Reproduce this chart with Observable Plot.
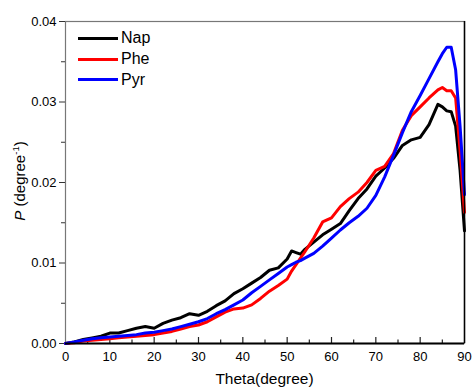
<!DOCTYPE html>
<html>
<head>
<meta charset="utf-8">
<script src="https://cdn.jsdelivr.net/npm/d3@7"></script>
<script src="https://cdn.jsdelivr.net/npm/@observablehq/plot@0.6"></script>
<style>
  html, body { margin: 0; padding: 0; background: #fff; }
  #wrap { position: relative; width: 472px; height: 387px; font-family: "Liberation Sans", Arial, sans-serif; }
  #legend { position: absolute; left: 78px; top: 28px; font-size: 16px; color: #000; }
  #legend .row { display: flex; align-items: center; height: 20.7px; }
  #legend .sw { width: 40px; height: 3px; margin-right: 3px; }
</style>
</head>
<body>
<div id="wrap"><div id="legend"></div></div>
<script>
const theta = [0,2,4,6,8,10,12,14,16,18,20,22,24,26,28,30,32,34,36,38,40,42,44,46,48,50,51,52,53,54,56,58,60,62,64,66,68,70,72,74,76,78,80,82,84,85,86,87,88,89,90];
const nap = [0,0.0002,0.0005,0.0007,0.0009,0.0013,0.0013,0.0016,0.0019,0.0021,0.0019,0.0025,0.0029,0.0032,0.0037,0.0035,0.0040,0.0047,0.0053,0.0062,0.0068,0.0075,0.0082,0.0091,0.0094,0.0105,0.0115,0.0113,0.0111,0.0117,0.0126,0.0135,0.0142,0.0149,0.0165,0.0180,0.0192,0.0208,0.0218,0.0230,0.0246,0.0253,0.0256,0.0272,0.0297,0.0294,0.0289,0.0288,0.0270,0.0215,0.0140];
const phe = [0,0.0001,0.0003,0.0004,0.0005,0.0006,0.0007,0.0008,0.0009,0.0010,0.0011,0.0013,0.0015,0.0018,0.0021,0.0023,0.0027,0.0033,0.0039,0.0043,0.0044,0.0048,0.0056,0.0065,0.0072,0.0080,0.0090,0.0098,0.0106,0.0114,0.0131,0.0151,0.0156,0.0170,0.0180,0.0188,0.0200,0.0215,0.0220,0.0236,0.0265,0.0283,0.0294,0.0305,0.0315,0.0318,0.0314,0.0314,0.0305,0.0240,0.0163];
const pyr = [0,0.0002,0.0004,0.0006,0.0007,0.0008,0.0009,0.0010,0.0011,0.0013,0.0014,0.0016,0.0018,0.0021,0.0024,0.0027,0.0031,0.0037,0.0042,0.0048,0.0054,0.0063,0.0071,0.0079,0.0087,0.0095,0.0098,0.0101,0.0103,0.0106,0.0112,0.0121,0.0131,0.0141,0.0150,0.0158,0.0168,0.0184,0.0207,0.0234,0.0262,0.0288,0.0308,0.0329,0.0350,0.0360,0.0368,0.0368,0.0340,0.0270,0.0185];
const seriesNames = ["Nap","Phe","Pyr"];
const seriesColors = ["#000000","#ff0000","#0000ff"];
const xTicks = [0,10,20,30,40,50,60,70,80,90];
const xMinor = [5,15,25,35,45,55,65,75,85];
const yTicks = [0,0.01,0.02,0.03,0.04];
const yMinor = [0.005,0.015,0.025,0.035];

const seriesValues = [nap, phe, pyr];
const data = [];
seriesNames.forEach((name, i) => {
  theta.forEach((t, j) => data.push({series: name, theta: t, p: seriesValues[i][j]}));
});

const W = 472, H = 387, mL = 65, mR = 8, mT = 21, mB = 44;
const innerH = H - mT - mB;

const chart = Plot.plot({
  width: W, height: H,
  marginLeft: mL, marginRight: mR, marginTop: mT, marginBottom: mB,
  style: {fontFamily: "Liberation Sans, Arial, sans-serif", fontSize: "13px", color: "#000", background: "#fff"},
  x: {domain: [0, 90]},
  y: {domain: [0, 0.04]},
  color: {domain: seriesNames, range: seriesColors},
  marks: [
    Plot.frame({stroke: "#777", strokeWidth: 1.2}),
    Plot.axisY({ticks: yTicks, tickFormat: d3.format(".2f"), tickSize: 6, tickPadding: 3, label: null, stroke: "#333"}),
    Plot.axisY({ticks: yMinor, tickFormat: () => "", tickSize: 4, label: null, stroke: "#333"}),
    Plot.axisX({ticks: xTicks, tickSize: 0, tickPadding: 8, label: null}),
    Plot.ruleX(xTicks.slice(1, -1), {x: d => d, insetTop: innerH - 6, stroke: "#222", strokeWidth: 1.2}),
    Plot.ruleX(xMinor, {x: d => d, insetTop: innerH - 3.5, stroke: "#222", strokeWidth: 1.2}),
    Plot.line(data, {x: "theta", y: "p", z: "series", stroke: "series", strokeWidth: 3, curve: "linear"}),
    Plot.ruleY([0], {stroke: "#000", strokeWidth: 2}),
    Plot.ruleX([90], {stroke: "#000", strokeWidth: 1.5})
  ]
});

document.getElementById("wrap").appendChild(chart);

// axis titles
const svg = d3.select(chart);
svg.append("text")
  .attr("x", mL + (W - mL - mR) / 2)
  .attr("y", H - 3)
  .attr("text-anchor", "middle")
  .attr("font-size", 15.5)
  .attr("fill", "#000")
  .text("Theta(degree)");
const yl = svg.append("text")
  .attr("transform", `translate(25,181) rotate(-90)`)
  .attr("text-anchor", "middle")
  .attr("font-size", 15)
  .attr("fill", "#000");
yl.append("tspan").attr("font-style", "italic").text("P");
yl.append("tspan").text(" (degree");
yl.append("tspan").attr("font-size", 9.5).attr("dy", -6).text("-1");
yl.append("tspan").attr("dy", 6).text(")");

// legend
const legend = d3.select("#legend");
seriesNames.forEach((name, i) => {
  const row = legend.append("div").attr("class", "row");
  row.append("div").attr("class", "sw").style("background", seriesColors[i]);
  row.append("span").text(name);
});
</script>
</body>
</html>
